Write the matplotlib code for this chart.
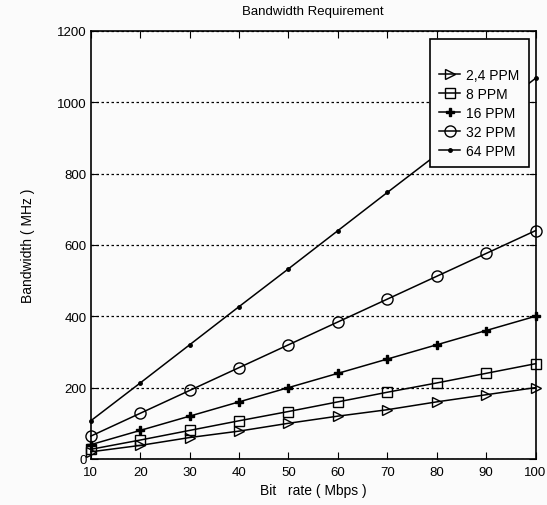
import matplotlib
matplotlib.use("Agg")
import matplotlib.pyplot as plt

bit_rate = [10, 20, 30, 40, 50, 60, 70, 80, 90, 100]
ppm_2_4 = [20, 38, 60, 78, 100, 120, 138, 160, 180, 200]
ppm_8 = [27, 53, 80, 107, 133, 160, 187, 213, 240, 267]
ppm_16 = [40, 80, 120, 160, 200, 240, 280, 320, 360, 400]
ppm_32 = [64, 128, 192, 256, 320, 384, 448, 512, 576, 640]
ppm_64 = [107, 213, 320, 427, 533, 640, 747, 853, 960, 1067]
series_labels = ["2,4 PPM", "8 PPM", "16 PPM", "32 PPM", "64 PPM"]
y_ticks = [0, 200, 400, 600, 800, 1000, 1200]
x_ticks = [10, 20, 30, 40, 50, 60, 70, 80, 90, 100]

plt.rcParams['font.family'] = ['Liberation Sans', 'DejaVu Sans']

fig = plt.figure(figsize=(5.47, 5.06), dpi=100)
fig.patch.set_facecolor("#fbfbfb")
ax = fig.add_axes([0.166, 0.091, 0.813, 0.846])
ax.set_facecolor("#fbfbfb")

styles = [
    (ppm_2_4, ">", 7, "none"),
    (ppm_8, "s", 7, "none"),
    (ppm_16, "P", 6, "black"),
    (ppm_32, "o", 8, "none"),
    (ppm_64, ".", 5, "black"),
]
for (vals, mk, ms, mfc), lab in zip(styles, series_labels):
    ax.plot(bit_rate, vals, color="black", lw=1.1, marker=mk, markersize=ms,
            markerfacecolor=mfc, markeredgecolor="black", markeredgewidth=1.0,
            label=lab, clip_on=False, zorder=3)

ax.set_xlim(10, 100)
ax.set_ylim(0, 1200)
ax.set_xticks(x_ticks)
ax.set_yticks(y_ticks)
ax.yaxis.grid(True, linestyle=(0, (2, 2)), color="black", lw=0.9)
ax.xaxis.grid(False)
ax.tick_params(direction="in", top=True, right=True, labelsize=9.5, length=5)
ax.tick_params(axis="x", pad=5)
ax.tick_params(axis="y", pad=3)
for s in ax.spines.values():
    s.set_linewidth(1.2)
ax.set_xlabel("Bit   rate ( Mbps )", fontsize=10, labelpad=4)
ax.set_ylabel("Bandwidth ( MHz )", fontsize=10, labelpad=16)
ax.set_title("Bandwidth Requirement", fontsize=9.5, pad=12)

leg = ax.legend(loc="upper right", bbox_to_anchor=(0.985, 0.982), fontsize=10,
                frameon=True, fancybox=False, edgecolor="black", framealpha=1,
                handlelength=1.5, borderpad=0.7, labelspacing=0.35, handletextpad=0.4,
                borderaxespad=0, title=" ", title_fontsize=12)
leg.get_frame().set_linewidth(1.2)
leg.get_frame().set_facecolor("#fbfbfb")
leg.set_zorder(5)

fig.savefig("out.png", dpi=100, facecolor=fig.get_facecolor())
